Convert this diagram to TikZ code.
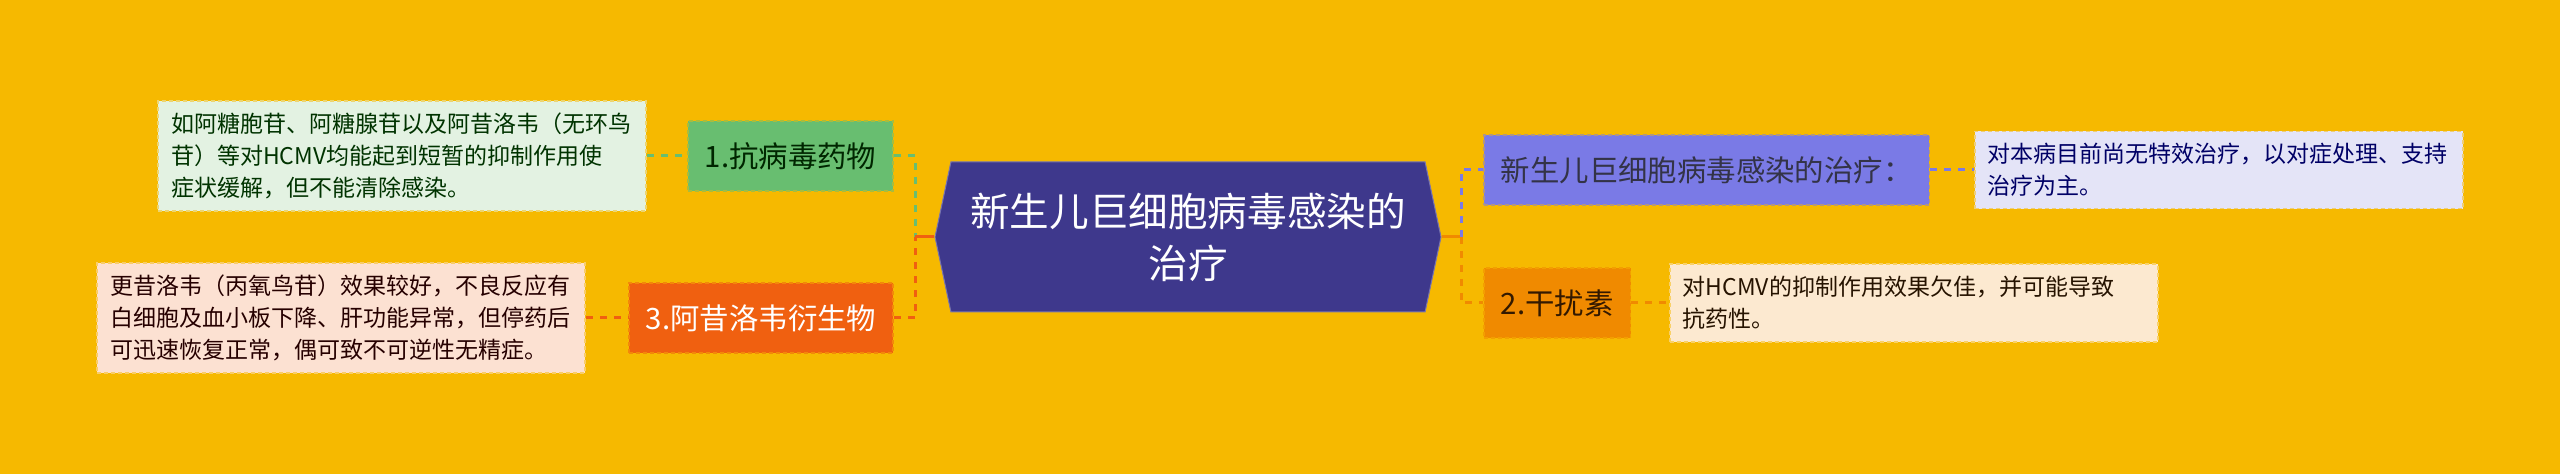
\documentclass[tikz,border=0pt]{standalone}
\usepackage{fontspec}
\setmainfont{Noto Sans CJK SC}
\usetikzlibrary{shapes.symbols}
\definecolor{bkg}{RGB}{246,185,0}
\definecolor{rootc}{RGB}{62,56,140}
\definecolor{greenc}{RGB}{104,190,112}
\definecolor{greenl}{RGB}{227,242,226}
\definecolor{redc}{RGB}{240,96,16}
\definecolor{redl}{RGB}{252,225,210}
\definecolor{bluec}{RGB}{122,122,230}
\definecolor{bluel}{RGB}{228,228,247}
\definecolor{orangec}{RGB}{240,138,0}
\definecolor{orangel}{RGB}{252,233,208}
\tikzset{
    rootnode/.style = {signal, signal to=west and east, signal pointer angle=156, fill=rootc, draw=rootc!70!white, line width=0.5pt, minimum width=253pt, minimum height=75pt, inner sep=0pt, align=center, text=white, font={\fontsize{19.8pt}{26pt}\selectfont}},
    mainnode/.style = {rectangle, line width=0.8pt, dash pattern=on 2pt off 1.5pt, minimum height=35pt, inner xsep=8.5pt, inner ysep=0pt, font={\fontsize{14.7pt}{18pt}\selectfont}},
    mainnodeg/.style = {mainnode, fill=greenc, draw=greenc!55!bkg, text=green!15!black},
    mainnoder/.style = {mainnode, fill=redc, draw=redc!55!bkg, text=white},
    mainnodeb/.style = {mainnode, fill=bluec, draw=bluec!55!bkg, text=blue!10!black!80},
    mainnodeo/.style = {mainnode, fill=orangec, draw=orangec!55!bkg, text=orange!20!black},
    leafnode/.style = {rectangle, line width=0.8pt, dash pattern=on 2pt off 1.5pt, text width=231pt, minimum width=244pt, inner xsep=0pt, inner ysep=6pt, align=left, font={\fontsize{11.5pt}{16pt}\selectfont}},
    leafnodeg/.style = {leafnode, fill=greenl, draw=greenl!50!bkg, text=green!20!black},
    leafnoder/.style = {leafnode, fill=redl, draw=redl!50!bkg, text=red!15!black},
    leafnodeb/.style = {leafnode, fill=bluel, draw=bluel!50!bkg, text=blue!40!black},
    leafnodeo/.style = {leafnode, fill=orangel, draw=orangel!50!bkg, text=orange!15!black},
    edgeg/.style = {-, line width=1.5pt, greenc, dash pattern=on 3.5pt off 3.5pt},
    edger/.style = {-, line width=1.5pt, redc, dash pattern=on 3.5pt off 3.5pt},
    edgeb/.style = {-, line width=1.5pt, bluec, dash pattern=on 3.5pt off 3.5pt},
    edgeo/.style = {-, line width=1.5pt, orangec, dash pattern=on 3.5pt off 3.5pt},
    stubr/.style = {-, line width=1.5pt, redc},
    stubo/.style = {-, line width=1.5pt, orangec}
}
\begin{document}
\begin{tikzpicture}[x=0.5pt,y=-0.5pt]
\useasboundingbox (0,0) rectangle (2560,474);
\fill[bkg] (0,0) rectangle (2560,474);

\node[rootnode] at (1188, 237) (root) {新生儿巨细胞病毒感染的\\治疗};

\node[mainnodeg, anchor=east] at ( 894, 156) (m1) {1.抗病毒药物};
\node[mainnoder, anchor=east] at ( 894, 318) (m3) {3.阿昔洛韦衍生物};
\node[mainnodeb, anchor=west] at (1483, 170) (ma) {新生儿巨细胞病毒感染的治疗：};
\node[mainnodeo, anchor=west] at (1483, 303) (m2) {2.干扰素};

\node[leafnodeg, anchor=east] at ( 647, 156) (l1) {如阿糖胞苷、阿糖腺苷以及阿昔洛韦（无环鸟\\苷）等对HCMV均能起到短暂的抑制作用使\\症状缓解，但不能清除感染。};
\node[leafnoder, anchor=east] at ( 586, 318) (l3) {更昔洛韦（丙氧鸟苷）效果较好，不良反应有\\白细胞及血小板下降、肝功能异常，但停药后\\可迅速恢复正常，偶可致不可逆性无精症。};
\node[leafnodeb, anchor=west] at (1974, 170) (la) {对本病目前尚无特效治疗，以对症处理、支持\\治疗为主。};
\node[leafnodeo, anchor=west] at (1669, 303) (l2) {对HCMV的抑制作用效果欠佳，并可能导致\\抗药性。};

\coordinate (jl) at ( 915, 237);
\coordinate (jr) at (1461, 237);

% left branches
\draw[edgeg] (l1.east) -- (m1.west);
\draw[edgeg] (m1.east) -| (jl);
\draw[edger] (l3.east) -- (m3.west);
\draw[edger] (m3.east) -| (jl);
\draw[stubr] (jl) -- (root.west);

% right branches
\draw[stubo] (root.east) -- (jr);
\draw[edgeb] (jr) |- (ma.west);
\draw[edgeo] (jr) |- (m2.west);
\draw[edgeb] (ma.east) -- (la.west);
\draw[edgeo] (m2.east) -- (l2.west);

\end{tikzpicture}
\end{document}
